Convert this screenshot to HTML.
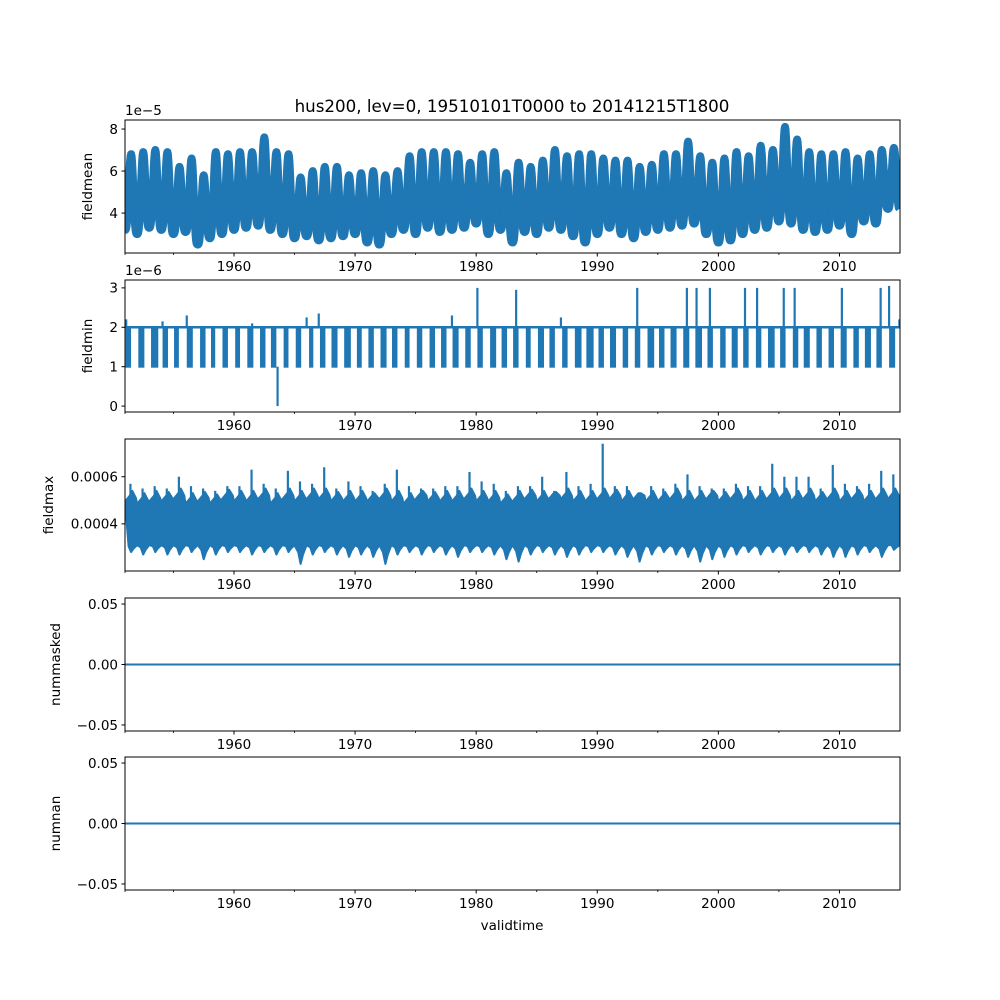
<!DOCTYPE html>
<html><head><meta charset="utf-8"><style>
html,body{margin:0;padding:0;background:#fff}
svg{display:block}
text{font-family:"DejaVu Sans","Liberation Sans",sans-serif;fill:#000}
</style></head><body>
<svg id="fig" width="1000" height="1000" viewBox="0 0 1000 1000" xmlns="http://www.w3.org/2000/svg">
<rect width="1000" height="1000" fill="#fff"/>
<text x="512" y="112" font-size="16.7" text-anchor="middle">hus200, lev=0, 19510101T0000 to 20141215T1800</text>
<text x="512" y="930" font-size="13.5" text-anchor="middle">validtime</text>
</svg>
<script>
// ---- data ----
const years = [];
for (let y = 1951; y <= 2014; y++) years.push(y);
const xTickYears = [1960, 1970, 1980, 1990, 2000, 2010];
const xMinorYears = [1955, 1965, 1975, 1985, 1995, 2005];
const meanPeak = [6.8,6.9,7.0,6.9,6.2,6.6,5.8,6.9,6.8,6.9, 6.9,7.6,6.9,6.8,5.7,6.0,6.2,6.2,5.8,5.9, 6.0,5.8,6.0,6.7,6.9,6.9,6.9,6.8,6.4,6.8, 6.9,5.9,6.4,6.2,6.5,7.0,6.7,6.8,6.8,6.6, 6.5,6.5,6.2,6.3,6.8,6.8,7.4,6.7,6.4,6.6, 6.9,6.7,7.2,7.0,8.1,7.5,6.9,6.8,6.8,6.9, 6.6,6.8,7.0,7.1];
const meanTrough = [3.2,3.0,3.3,3.2,3.0,3.1,2.5,2.8,3.0,3.2, 3.3,3.4,3.2,3.0,2.8,2.9,2.7,2.8,2.9,3.0, 2.6,2.5,3.0,3.2,3.0,3.3,3.1,3.2,3.3,3.5, 3.0,3.2,2.6,3.1,3.0,3.3,3.2,2.9,2.6,3.0, 3.3,3.0,2.8,3.1,3.2,3.3,3.4,3.5,3.0,2.6, 2.7,3.0,3.2,3.3,3.6,3.5,3.2,3.1,3.2,3.4, 3.0,3.6,3.5,4.2];
const minDropStart = [0.05,0.1,0.15,0.1,0.05,0.1,0.2,0.1,0.05,0.1, 0.1,0.15,0.05,0.1,0.1,0.2,0.1,0.05,0.1,0.15, 0.1,0.1,0.05,0.1,0.1,0.15,0.1,0.05,0.1,0.1, 0.15,0.1,0.05,0.1,0.1,0.05,0.1,0.15,0.1,0.1, 0.05,0.1,0.1,0.15,0.1,0.05,0.1,0.1,0.1,0.15, 0.1,0.05,0.1,0.1,0.1,0.15,0.05,0.1,0.1,0.1, 0.15,0.1,0.05,0.1];
const minDropWidth = [0.45,0.5,0.6,0.45,0.4,0.5,0.45,0.35,0.45,0.4, 0.5,0.45,0.45,0.4,0.45,0.35,0.45,0.5,0.55,0.4, 0.45,0.5,0.45,0.4,0.45,0.45,0.45,0.5,0.45,0.45, 0.5,0.45,0.45,0.4,0.5,0.45,0.45,0.55,0.6,0.45, 0.5,0.45,0.45,0.55,0.45,0.5,0.5,0.55,0.45,0.45, 0.5,0.45,0.45,0.55,0.45,0.45,0.5,0.45,0.45,0.5, 0.45,0.5,0.45,0.5];
const minSpikeYears = [1951.1,1954.1,1956.1,1961.5,1966.0,1967.0,1978.0,1980.1,1983.3,1987.0,1993.3,1997.4,1998.2,1999.3,2002.2,2003.2,2005.4,2006.3,2010.2,2013.4,2014.1,2014.95];
const minSpikeValues = [2.2,2.15,2.3,2.1,2.25,2.35,2.3,3.0,2.95,2.25,3.0,3.0,3.0,3.0,3.0,3.0,3.0,3.0,3.0,3.0,3.05,2.2];
const minDipYears = [1963.6];
const minDipValues = [0.0];
const maxPeak = [5.7,5.5,5.6,5.5,6.0,5.6,5.5,5.4,5.6,5.6, 6.3,5.7,5.5,6.25,5.8,5.7,6.4,5.5,5.8,5.6, 5.4,5.7,6.3,5.6,5.5,5.5,5.6,5.6,6.2,5.8, 5.7,5.4,5.6,5.6,6.0,5.4,6.2,5.6,5.7,7.4, 5.6,5.6,5.3,5.6,5.5,5.7,6.1,5.6,5.5,5.5, 5.7,5.6,5.6,6.55,6.0,6.0,6.0,5.5,6.5,5.7, 5.6,5.7,6.25,6.1];
const maxUpper = [5.2,5.1,5.2,5.2,5.3,5.1,5.2,5.1,5.3,5.2, 5.2,5.3,5.1,5.3,5.2,5.3,5.3,5.2,5.2,5.2, 5.2,5.3,5.2,5.1,5.3,5.2,5.2,5.2,5.3,5.2, 5.2,5.1,5.2,5.3,5.2,5.3,5.3,5.2,5.2,5.3, 5.3,5.2,5.3,5.2,5.2,5.3,5.2,5.2,5.3,5.2, 5.3,5.2,5.2,5.3,5.3,5.2,5.3,5.2,5.3,5.2, 5.3,5.2,5.3,5.3];
const maxLower = [2.8,2.7,2.8,2.7,2.7,2.8,2.5,2.7,2.8,2.8, 2.7,2.8,2.7,2.8,2.3,2.7,2.8,2.7,2.6,2.7, 2.6,2.3,2.7,2.8,2.7,2.8,2.7,2.6,2.8,2.8, 2.7,2.5,2.4,2.7,2.8,2.7,2.6,2.7,2.8,2.8, 2.7,2.6,2.4,2.7,2.8,2.7,2.6,2.4,2.5,2.6, 2.7,2.8,2.7,2.8,2.7,2.8,2.8,2.7,2.6,2.6, 2.7,2.8,2.6,2.9];
const flatValues = [0, 0];

// ---- layout ----
const NS = "http://www.w3.org/2000/svg";
const svg = document.getElementById('fig');
const L = 125, R = 900, X0 = 1951, X1 = 2015;
const BLUE = "#1f77b4";
function xs(t){ return L + (t - X0) / (X1 - X0) * (R - L); }
function mk(tag, attrs, parent){
  const e = document.createElementNS(NS, tag);
  for (const k in attrs) e.setAttribute(k, attrs[k]);
  (parent || svg).appendChild(e);
  return e;
}
const panels = [
  {name:'fieldmean', top:120, bot:253, ymin:2.1, ymax:8.43, ticks:[4,6,8], labels:['4','6','8'], offset:'1e\u22125', labx:92},
  {name:'fieldmin', top:280, bot:412, ymin:-0.15, ymax:3.2, ticks:[0,1,2,3], labels:['0','1','2','3'], offset:'1e\u22126', labx:92},
  {name:'fieldmax', top:439, bot:571, ymin:2.0, ymax:7.6, ticks:[4,6], labels:['0.0004','0.0006'], offset:null, labx:53},
  {name:'nummasked', top:598, bot:731, ymin:-0.055, ymax:0.055, ticks:[-0.05,0,0.05], labels:['\u22120.05','0.00','0.05'], offset:null, labx:60},
  {name:'numnan', top:757, bot:890, ymin:-0.055, ymax:0.055, ticks:[-0.05,0,0.05], labels:['\u22120.05','0.00','0.05'], offset:null, labx:60}
];
panels.forEach(p => { p.ys = v => p.bot - (v - p.ymin) / (p.ymax - p.ymin) * (p.bot - p.top); });

function addAxes(p, i){
  const g = mk('g', {});
  
  
  p.ticks.forEach((v, k) => {
    const y = p.ys(v);
    mk('line', {x1:L-3.5, x2:L, y1:y, y2:y, stroke:'#000', 'stroke-width':1}, g);
    const t = mk('text', {x:L-7, y:y+4.8, 'font-size':13.5, 'text-anchor':'end'}, g);
    
    
    t.textContent = p.labels[k];
  });
  xTickYears.forEach(yr => {
    const x = xs(yr);
    mk('line', {x1:x, x2:x, y1:p.bot, y2:p.bot+3.5, stroke:'#000', 'stroke-width':1}, g);
    const t = mk('text', {x:x, y:p.bot+18, 'font-size':13.5, 'text-anchor':'middle'}, g);
    
    
    t.textContent = String(yr);
  });
  xMinorYears.concat([X0]).forEach(yr => {
    const x = xs(yr);
    mk('line', {x1:x, x2:x, y1:p.bot, y2:p.bot+2, stroke:'#000', 'stroke-width':0.8}, g);
  });
  const yl = mk('text', {x:p.labx, y:(p.top+p.bot)/2, 'font-size':13.5, 'text-anchor':'middle', transform:`rotate(-90 ${p.labx} ${(p.top+p.bot)/2})`}, g);
  
  
  yl.textContent = p.name;
  if (p.offset){
    const o = mk('text', {x:L, y:p.top-5, 'font-size':13.5}, g);
    
    
    o.textContent = p.offset;
  }
  const clip = mk('clipPath', {id:'clip'+i});
  mk('rect', {x:L, y:p.top, width:R-L, height:p.bot-p.top}, clip);
  const dg = mk('g', {'clip-path':`url(#clip${i})`});
  
  
  p.g = dg;
  p.frameG = g;
}
panels.forEach(addAxes);

// fieldmean
(function(){
  const p = panels[0];
  let d = '';
  years.forEach((yr, i) => {
    const lo = meanTrough[i], hi = meanPeak[i];
    const nlo = i + 1 < years.length ? meanTrough[i+1] : lo;
    for (let k = 0; k < 24; k++){
      const f = k / 24;
      const base = f < 0.5 ? lo : nlo;
      const s = Math.pow(0.5 - 0.5 * Math.cos(2 * Math.PI * f), 1.6);
      const v = base + (hi - base) * s;
      d += (d ? 'L' : 'M') + xs(yr + f).toFixed(1) + ' ' + p.ys(v).toFixed(1);
    }
  });
  const band = mk('path', {d:d, fill:'none', stroke:BLUE, 'stroke-width':8, 'stroke-linejoin':'round'}, p.g);
  
  
  years.forEach((yr, i) => {
    const pk = mk('line', {x1:xs(yr+0.5), x2:xs(yr+0.5), y1:p.ys(meanPeak[i]), y2:p.ys(meanPeak[i]-1), stroke:BLUE, 'stroke-width':2.5}, p.g);
    
    
    const tr = mk('line', {x1:xs(yr), x2:xs(yr), y1:p.ys(meanTrough[i]), y2:p.ys(meanTrough[i]+1), stroke:BLUE, 'stroke-width':2.5}, p.g);
    
    
  });
})();

// fieldmin
(function(){
  const p = panels[1];
  const base = mk('line', {x1:L, x2:R, y1:p.ys(2), y2:p.ys(2), stroke:BLUE, 'stroke-width':2.5}, p.g);
  
  
  years.forEach((yr, i) => {
    const x0 = xs(yr + minDropStart[i]), x1 = xs(yr + minDropStart[i] + minDropWidth[i]);
    const r = mk('rect', {x:x0, y:p.ys(2), width:Math.max(x1-x0, 2), height:p.ys(1)-p.ys(2)+1, fill:BLUE}, p.g);
    
    
  });
  minSpikeYears.forEach((yr, i) => {
    const s = mk('line', {x1:xs(yr), x2:xs(yr), y1:p.ys(2), y2:p.ys(minSpikeValues[i]), stroke:BLUE, 'stroke-width':2.2}, p.g);
    
    
  });
  minDipYears.forEach((yr, i) => {
    const s = mk('line', {x1:xs(yr), x2:xs(yr), y1:p.ys(1), y2:p.ys(minDipValues[i]), stroke:BLUE, 'stroke-width':2.2}, p.g);
    
    
  });
})();

// fieldmax
(function(){
  const p = panels[2];
  let top = '', bot = '';
  years.forEach((yr, i) => {
    const mu = (maxUpper[i] + maxPeak[i]) / 2;
    top += (top ? 'L' : 'M') + xs(yr).toFixed(1) + ' ' + p.ys(maxUpper[i]-0.25).toFixed(1) + 'L' + xs(yr+0.4).toFixed(1) + ' ' + p.ys(maxUpper[i]).toFixed(1) + 'L' + xs(yr+0.6).toFixed(1) + ' ' + p.ys(Math.min(mu, maxUpper[i]+0.2)).toFixed(1) + 'L' + xs(yr+0.9).toFixed(1) + ' ' + p.ys(maxUpper[i]-0.1).toFixed(1);
  });
  for (let i = years.length - 1; i >= 0; i--){
    const yr = years[i], mid = (maxLower[i] + 3.1) / 2;
    bot += 'L' + xs(yr+1).toFixed(1) + ' ' + p.ys(3.1).toFixed(1) + 'L' + xs(yr+0.7).toFixed(1) + ' ' + p.ys(mid).toFixed(1) + 'L' + xs(yr+0.5).toFixed(1) + ' ' + p.ys(maxLower[i]).toFixed(1) + 'L' + xs(yr+0.3).toFixed(1) + ' ' + p.ys(mid+0.1).toFixed(1);
  }
  const band = mk('path', {d:top + bot + 'Z', fill:BLUE, stroke:BLUE, 'stroke-width':2, 'stroke-linejoin':'round'}, p.g);
  
  
  years.forEach((yr, i) => {
    const s = mk('line', {x1:xs(yr+0.45), x2:xs(yr+0.45), y1:p.ys(maxUpper[i]), y2:p.ys(maxPeak[i]), stroke:BLUE, 'stroke-width':2.2}, p.g);
    
    
  });
})();

// nummasked, numnan
[3, 4].forEach((pi, j) => {
  const p = panels[pi];
  const l = mk('line', {x1:L, x2:R, y1:p.ys(flatValues[0]), y2:p.ys(flatValues[1]), stroke:BLUE, 'stroke-width':2}, p.g);
  
  
});

// frames on top
panels.forEach(p => {
  const f = mk('rect', {x:L, y:p.top, width:R-L, height:p.bot-p.top, fill:'none', stroke:'#000', 'stroke-width':1}, p.frameG);
  
  
  svg.appendChild(p.frameG);
});
</script>
</body></html>
